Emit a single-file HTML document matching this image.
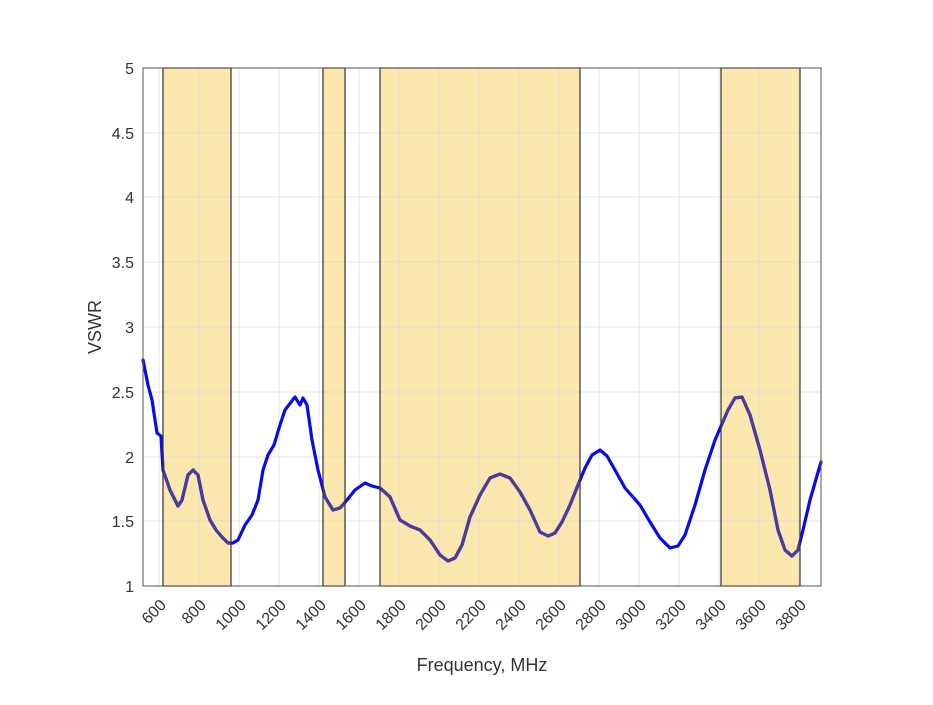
<!DOCTYPE html><html><head><style>body{margin:0;background:#fff}</style></head><body>
<svg width="933" height="700" xmlns="http://www.w3.org/2000/svg" font-family="Liberation Sans, sans-serif">
<defs>
<clipPath id="bands"><rect x="163" y="68" width="68" height="518"/><rect x="323" y="68" width="22" height="518"/><rect x="380" y="68" width="200" height="518"/><rect x="721" y="68" width="79" height="518"/></clipPath>
<polyline id="curve" fill="none" stroke-width="3.2" stroke-linejoin="round" stroke-linecap="round" points="143,360 148,385 152,400 157,433 161,436 163,470 170,490 178,506 182,500 188,475 193,470 198,475 203,500 210,520 216,530 222,537 228,543 233,543 238,540 245,525 252,515 258,500 263,470 268,455 274,445 280,425 285,410 295,397 300,405 303,398 307,405 312,440 318,470 325,497 333,510 340,508 347,500 355,490 365,483 372,486 380,488 390,497 400,520 410,526 420,530 430,540 440,555 448,561 455,558 462,545 470,517 480,495 490,478 500,474 510,478 520,492 530,510 540,532 548,536 555,533 562,522 570,505 578,485 585,468 592,455 600,450 607,456 615,470 625,488 640,505 650,522 660,538 670,548 678,546 685,535 695,505 705,470 715,440 728,410 735,398 742,397 750,415 760,450 770,490 778,530 785,550 792,556 798,550 803,530 810,500 821,462"/>
</defs>
<rect width="933" height="700" fill="#fff"/>
<g fill="#fce7ae" stroke="none">
<rect x="163" y="68" width="68" height="518"/><rect x="323" y="68" width="22" height="518"/><rect x="380" y="68" width="200" height="518"/><rect x="721" y="68" width="79" height="518"/>
</g>
<g stroke="#d8d8d8" stroke-opacity="0.7" stroke-width="1">
<line x1="159" y1="68" x2="159" y2="586"/><line x1="199" y1="68" x2="199" y2="586"/><line x1="239" y1="68" x2="239" y2="586"/><line x1="279" y1="68" x2="279" y2="586"/><line x1="319" y1="68" x2="319" y2="586"/><line x1="359" y1="68" x2="359" y2="586"/><line x1="399" y1="68" x2="399" y2="586"/><line x1="439" y1="68" x2="439" y2="586"/><line x1="479" y1="68" x2="479" y2="586"/><line x1="519" y1="68" x2="519" y2="586"/><line x1="559" y1="68" x2="559" y2="586"/><line x1="599" y1="68" x2="599" y2="586"/><line x1="639" y1="68" x2="639" y2="586"/><line x1="679" y1="68" x2="679" y2="586"/><line x1="719" y1="68" x2="719" y2="586"/><line x1="759" y1="68" x2="759" y2="586"/><line x1="799" y1="68" x2="799" y2="586"/>
<line x1="143" y1="133" x2="821" y2="133"/><line x1="143" y1="197" x2="821" y2="197"/><line x1="143" y1="262" x2="821" y2="262"/><line x1="143" y1="327" x2="821" y2="327"/><line x1="143" y1="392" x2="821" y2="392"/><line x1="143" y1="457" x2="821" y2="457"/><line x1="143" y1="521" x2="821" y2="521"/>
</g>
<use href="#curve" stroke="#0a0ae8"/>
<use href="#curve" stroke="#4b3c9c" clip-path="url(#bands)"/>
<g fill="none" stroke="#333" stroke-width="1.2">
<rect x="163" y="68" width="68" height="518"/><rect x="323" y="68" width="22" height="518"/><rect x="380" y="68" width="200" height="518"/><rect x="721" y="68" width="79" height="518"/>
</g>
<rect x="143" y="68" width="678" height="518" fill="none" stroke="#555" stroke-width="1"/>
<g font-size="16" fill="#333" text-anchor="end">
<text x="134" y="74">5</text><text x="134" y="139">4.5</text><text x="134" y="203">4</text><text x="134" y="268">3.5</text><text x="134" y="333">3</text><text x="134" y="398">2.5</text><text x="134" y="463">2</text><text x="134" y="527">1.5</text><text x="134" y="592">1</text>
</g>
<g font-size="16" fill="#333" text-anchor="end">
<text transform="translate(167,606) rotate(-45)">600</text><text transform="translate(207,606) rotate(-45)">800</text><text transform="translate(247,606) rotate(-45)">1000</text><text transform="translate(287,606) rotate(-45)">1200</text><text transform="translate(327,606) rotate(-45)">1400</text><text transform="translate(367,606) rotate(-45)">1600</text><text transform="translate(407,606) rotate(-45)">1800</text><text transform="translate(447,606) rotate(-45)">2000</text><text transform="translate(487,606) rotate(-45)">2200</text><text transform="translate(527,606) rotate(-45)">2400</text><text transform="translate(567,606) rotate(-45)">2600</text><text transform="translate(607,606) rotate(-45)">2800</text><text transform="translate(647,606) rotate(-45)">3000</text><text transform="translate(687,606) rotate(-45)">3200</text><text transform="translate(727,606) rotate(-45)">3400</text><text transform="translate(767,606) rotate(-45)">3600</text><text transform="translate(807,606) rotate(-45)">3800</text>
</g>
<text x="482" y="671" font-size="18" fill="#333" text-anchor="middle">Frequency, MHz</text>
<text transform="translate(101,327) rotate(-90)" font-size="18" fill="#333" text-anchor="middle">VSWR</text>
</svg>
</body></html>
